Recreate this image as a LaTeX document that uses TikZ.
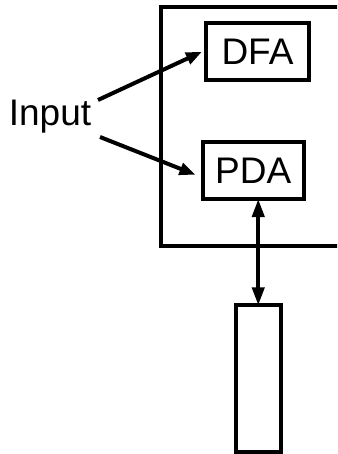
\documentclass[tikz,border=0pt]{standalone}
\usepackage{fontspec}
\setmainfont{Liberation Sans}
\usetikzlibrary{arrows.meta}
\begin{document}
\begin{tikzpicture}[x=1pt,y=-1pt,
  line width=4pt,
  lbl/.style={font=\fontsize{37}{40}\selectfont, inner sep=0pt},
  boxnode/.style={draw, line width=4pt, inner sep=0pt, font=\fontsize{37}{40}\selectfont},
  arr/.style={-{Triangle[length=16pt,width=12pt]}, line width=4pt},
  darr/.style={{Triangle[length=18pt,width=12pt]}-{Triangle[length=18pt,width=12pt]}, line width=4pt}]
\useasboundingbox (0,0) rectangle (337,454);
\clip (0,0) rectangle (337,454);
% outer machine box (open to the right)
\draw (345,7) -- (160.5,7) -- (160.5,245.5) -- (345,245.5);
\node[boxnode, minimum width=103pt, minimum height=57.5pt] (dfa) at (257.5,51.75) {DFA};
\node[boxnode, minimum width=101.5pt, minimum height=56.5pt] (pda) at (253.25,170.75) {PDA};
\node[draw, line width=4pt, minimum width=44.5pt, minimum height=146.7pt, inner sep=0pt] (tape) at (258.25,378.7) {};
\node[lbl] (in) at (50,117) {Input};
\coordinate (s1) at (98,100);
\coordinate (s2) at (100,137);
\draw[arr] (s1) -- ([xshift=-2pt]dfa.west);
\draw[arr] (s2) -- ([xshift=-5pt,yshift=-4pt]pda.west);
\draw[darr] ([yshift=2pt]tape.north |- pda.south) -- ([yshift=-2pt]tape.north);
\end{tikzpicture}
\end{document}
